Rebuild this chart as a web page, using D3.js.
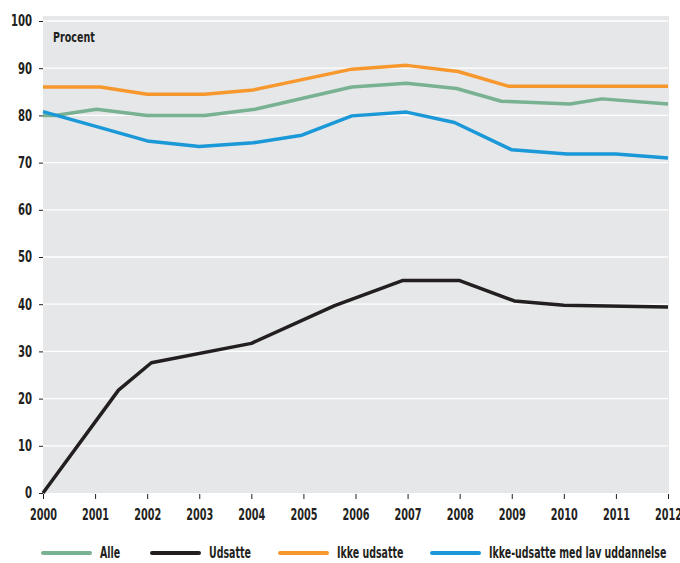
<!DOCTYPE html>
<html>
<head>
<meta charset="utf-8">
<script src="https://cdn.jsdelivr.net/npm/d3@7"></script>
<style>
  body { margin: 0; background: #fff; }
  svg text { font-family: "Liberation Sans Narrow", "DejaVu Sans Condensed", sans-serif; font-weight: bold; fill: #231f20; }
</style>
</head>
<body>
<div id="chart"></div>
<script>
// Andel i beskaeftigelse/uddannelse, procent
var years = [2000, 2001, 2002, 2003, 2004, 2005, 2006, 2007, 2008, 2009, 2010, 2011, 2012];
var yTicks = [0, 10, 20, 30, 40, 50, 60, 70, 80, 90, 100];

// points are [year position, value]
var alle = [[2000, 80.0], [2000.23, 80.0], [2001.03, 81.3], [2002, 80.0], [2003.1, 80.0], [2004.07, 81.3], [2005.93, 86.0], [2006.98, 86.8], [2007.94, 85.7], [2008.8, 83.0], [2010.12, 82.4], [2010.73, 83.5], [2012, 82.4]];
var udsatte = [[2000, 0], [2001.45, 21.8], [2002.08, 27.6], [2004, 31.7], [2005.6, 39.7], [2006.9, 45.0], [2008, 45.0], [2009.05, 40.7], [2010, 39.8], [2012, 39.4]];
var ikkeUdsatte = [[2000, 86.0], [2001.1, 86.0], [2002, 84.5], [2003.1, 84.5], [2004.04, 85.4], [2005.93, 89.8], [2006.98, 90.6], [2007.97, 89.3], [2008.93, 86.2], [2012, 86.2]];
var ikkeUdsatteLav = [[2000, 80.8], [2001.1, 77.4], [2002, 74.6], [2003, 73.4], [2004.04, 74.2], [2004.97, 75.8], [2005.93, 79.9], [2006.98, 80.7], [2007.9, 78.5], [2009, 72.7], [2010.06, 71.8], [2011, 71.8], [2012, 71.0]];

var seriesNames = ['Alle', 'Udsatte', 'Ikke udsatte', 'Ikke-udsatte med lav uddannelse'];
var seriesColors = ['#78b293', '#231f20', '#f7982f', '#1b98d7'];
var seriesData = [alle, udsatte, ikkeUdsatte, ikkeUdsatteLav];

var width = 680, height = 563;
var margin = { top: 16, right: 11, bottom: 70, left: 43 };
var plotW = 668 - margin.left;
var plotH = 493 - margin.top;

// squeeze text horizontally while keeping its anchor point
function condense(sel, k) {
    sel.each(function() {
        var t = d3.select(this);
        var tx = +t.attr('x') || 0;
        t.attr('x', tx / k).attr('transform', 'scale(' + k + ',1)');
    });
}

var svg = d3.select('#chart').append('svg').attr('width', width).attr('height', height);
var g = svg.append('g').attr('transform', 'translate(' + margin.left + ',' + margin.top + ')');

var x = d3.scaleLinear().domain([2000, 2012]).range([0, plotW]);
var y = d3.scaleLinear().domain([0, 100]).range([plotH, 5]);

g.append('rect').attr('x', 0).attr('y', 0).attr('width', plotW + 1).attr('height', plotH).attr('fill', '#e6e7e8');

// gridlines
g.selectAll('.grid').data(yTicks.filter(function(d) { return d > 0; })).enter().append('line')
    .attr('x1', 0).attr('x2', plotW).attr('y1', function(d) { return y(d); }).attr('y2', function(d) { return y(d); })
    .attr('stroke', '#fff').attr('stroke-width', 1.3);

// y axis
var yAxis = g.append('g').call(d3.axisLeft(y).tickValues(yTicks).tickSize(4).tickPadding(7));
yAxis.select('.domain').remove();
yAxis.selectAll('line').attr('stroke', '#231f20');
yAxis.selectAll('text').style('font-size', '15px').call(condense, 0.75);

// x axis
var xAxis = g.append('g').attr('transform', 'translate(0,' + plotH + ')')
    .call(d3.axisBottom(x).tickValues(years).tickFormat(d3.format('d')).tickSize(6).tickPadding(10));
xAxis.select('.domain').remove();
xAxis.selectAll('line').attr('stroke', '#231f20').attr('y1', 1);
xAxis.selectAll('text').style('font-size', '15px').call(condense, 0.72);

g.append('text').attr('x', 10).attr('y', 26).style('font-size', '14px').text('Procent').call(condense, 0.76);

var line = d3.line().x(function(d) { return x(d[0]); }).y(function(d) { return y(d[1]); });
var order = [0, 2, 3, 1];
order.forEach(function(i) {
    g.append('path').datum(seriesData[i]).attr('d', line).attr('fill', 'none')
        .attr('stroke', seriesColors[i]).attr('stroke-width', 3.5).attr('stroke-linejoin', 'round');
});

// legend
var legendX = [43, 152, 280, 432];
var legend = svg.append('g').attr('transform', 'translate(0,553)');
seriesNames.forEach(function(name, i) {
    legend.append('line').attr('x1', legendX[i]).attr('x2', legendX[i] + 47).attr('y1', 0).attr('y2', 0)
        .attr('stroke', seriesColors[i]).attr('stroke-width', 4).attr('stroke-linecap', 'round');
    legend.append('text').attr('x', legendX[i] + 57).attr('y', 5).style('font-size', '15px').text(name).call(condense, 0.7);
});
</script>
</body>
</html>
